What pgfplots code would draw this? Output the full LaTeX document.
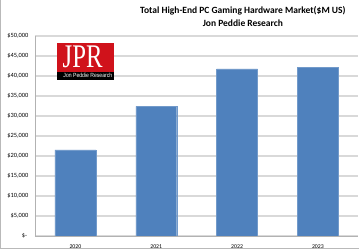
\documentclass[border=0pt]{standalone}
\usepackage{pgfplots}
\pgfplotsset{compat=1.18}
\usepackage{fontspec}
\setmainfont{Carlito}
\newfontfamily\logoserif{Liberation Serif}
\newfontfamily\logosans{Liberation Sans}
\definecolor{barblue}{HTML}{4F81BD}
\definecolor{gridgray}{HTML}{D9D9D9}
\definecolor{jprred}{HTML}{D0121B}
\begin{document}
\begin{tikzpicture}[x=1pt,y=1pt]
\begin{scope}[shift={(-35pt,-14pt)}]
\path[use as bounding box] (0,0) rectangle (359,250);
\draw[gray!55, line width=0.8pt] (0.5,250) -- (0.5,1.5) -- (359,1.5);
\end{scope}
\begin{axis}[scale only axis,
  width=323.5pt, height=200pt,
  xmin=-0.5, xmax=3.5, ymin=0, ymax=50000,
  ybar, bar width=41pt,
  scaled y ticks=false,
  xtick={0,1,2,3}, xticklabels={2020,2021,2022,2023},
  ytick={0,5000,10000,15000,20000,25000,30000,35000,40000,45000,50000},
  yticklabels={{\$-\ \ },{\$5,000},{\$10,000},{\$15,000},{\$20,000},{\$25,000},{\$30,000},{\$35,000},{\$40,000},{\$45,000},{\$50,000}},
  ymajorgrids, grid style={gridgray, line width=1.3pt},
  axis lines*=left, axis line style={-, gray!60, line width=0.8pt},
  major tick style={draw=none},
  yticklabel style={font=\fontsize{6.4}{7}\selectfont, xshift=-3pt},
  xticklabel style={font=\fontsize{5.8}{7}\selectfont, yshift=-1pt},
]
\addplot[fill=barblue, draw=barblue!80!white, bar shift=0pt]
  coordinates {(0,21500) (1,32400) (2,41800) (3,42200)};
\end{axis}
\begin{scope}[shift={(-35pt,-14pt)}]
\node[font=\bfseries\fontsize{9.5}{11}\selectfont] at (243,239) {Total High-End PC Gaming Hardware Market(\$M US)};
\node[font=\bfseries\fontsize{9.5}{11}\selectfont] at (243,227) {Jon Peddie Research};
\fill[jprred] (57.3,170) rectangle (113.7,207.3);
\fill[black] (57.3,170) rectangle (113.7,178.3);
\node[white, font=\logoserif\fontsize{33}{33}\selectfont, xscale=0.75, inner sep=0, anchor=base] at (82.7,182.5) {JPR};
\node[white, font=\logosans\fontsize{6}{6}\selectfont, xscale=0.85, inner sep=0] at (87.9,174.2) {Jon Peddie Research};
\end{scope}
\end{tikzpicture}
\end{document}
